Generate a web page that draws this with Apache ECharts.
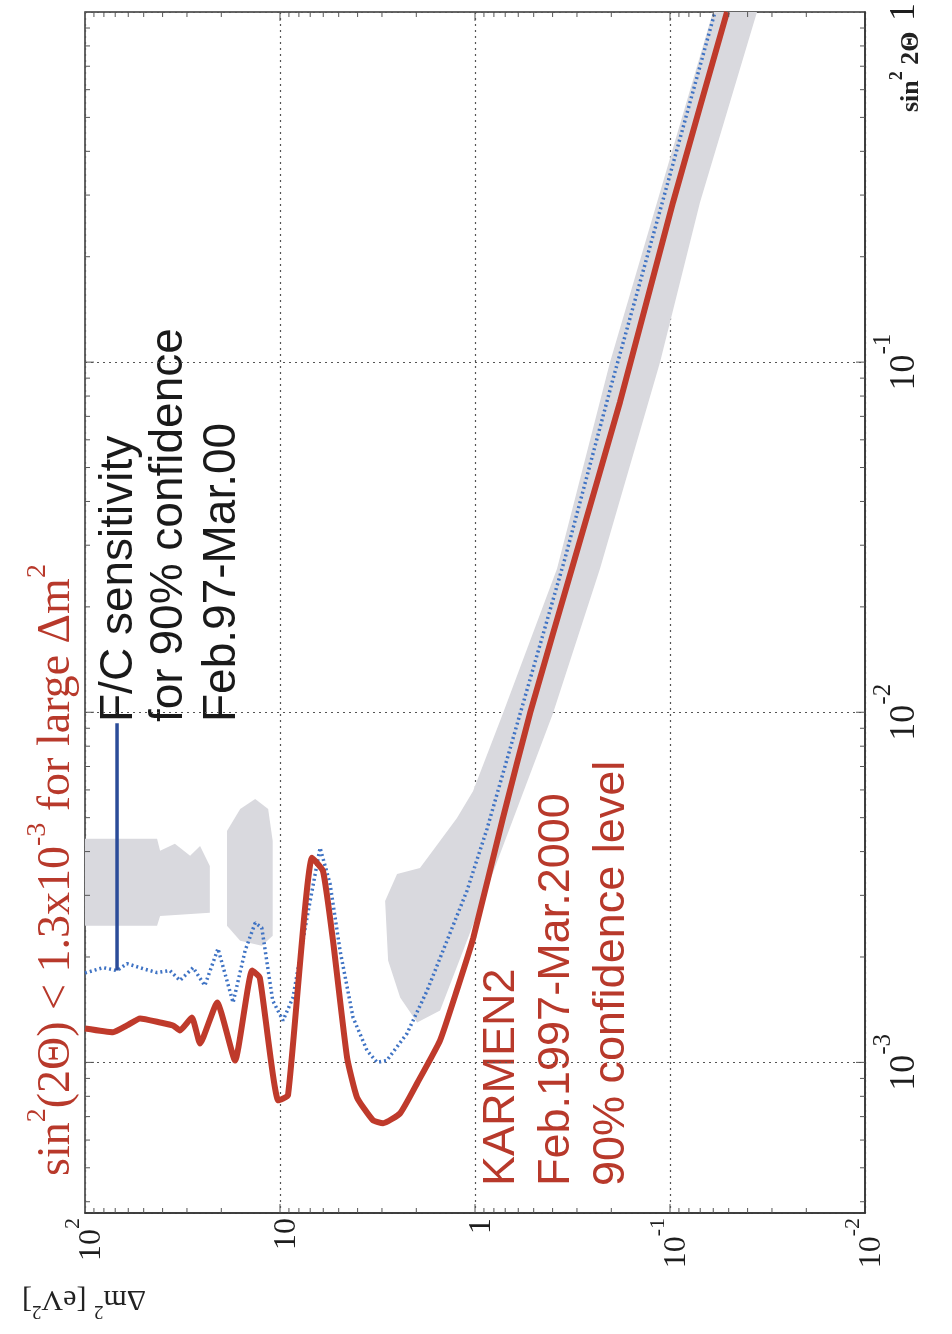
<!DOCTYPE html>
<html>
<head>
<meta charset="utf-8">
<script src="https://cdn.jsdelivr.net/npm/echarts@6/dist/echarts.min.js"></script>
<style>
  html, body { margin: 0; padding: 0; background: #fff; }
  #chart { width: 952px; height: 1334px; }
</style>
</head>
<body>
<div id="chart"></div>
<script>
// data: [dm2 (eV^2), sin^2(2theta)] -- the figure is drawn rotated by 90 degrees
const karmenLimit = [
  [100, 1.25e-3], [71.8, 1.22e-3], [60.9, 1.275e-3], [52.2, 1.335e-3], [41.2, 1.30e-3],
  [35.4, 1.275e-3], [32.6, 1.234e-3], [28.3, 1.343e-3], [25.7, 1.133e-3], [21.0, 1.482e-3],
  [17.0, 1.013e-3], [13.9, 1.829e-3], [12.7, 1.747e-3], [10.2, 7.79e-4], [9.1, 8.05e-4],
  [6.85, 3.84e-3], [6.02, 3.52e-3], [5.35, 2.23e-3], [4.53, 1.033e-3], [4.03, 7.95e-4],
  [3.34, 6.84e-4], [2.96, 6.70e-4], [2.42, 7.16e-4], [1.98, 8.72e-4], [1.51, 1.156e-3],
  [1.24, 1.604e-3], [1.02, 2.27e-3], [0.719, 4.99e-3], [0.522, 9.94e-3], [0.307, 2.76e-2],
  [0.1805, 7.69e-2], [0.0965, 0.286], [0.051, 1.0]
]
const fcSensitivity = [
  [100, 1.80e-3], [80.8, 1.865e-3], [68.5, 1.829e-3], [60.9, 1.915e-3], [50.4, 1.852e-3],
  [42.7, 1.805e-3], [36.7, 1.829e-3], [32.6, 1.713e-3], [27.9, 1.865e-3], [24.3, 1.657e-3],
  [20.8, 2.113e-3], [17.4, 1.482e-3], [15.1, 2.085e-3], [13.4, 2.505e-3], [12.4, 2.424e-3],
  [10.9, 1.502e-3], [9.65, 1.317e-3], [8.58, 1.532e-3], [7.27, 2.589e-3], [6.23, 4.10e-3],
  [5.54, 3.24e-3], [4.92, 2.085e-3], [4.22, 1.343e-3], [3.58, 1.082e-3], [3.18, 1.0e-3],
  [2.83, 1.013e-3], [2.23, 1.21e-3], [1.76, 1.604e-3], [1.39, 2.23e-3], [1.10, 3.09e-3],
  [0.868, 4.64e-3], [0.588, 9.87e-3], [0.345, 2.76e-2], [0.198, 8.77e-2], [0.106, 0.305],
  [0.0588, 1.0]
]
// grey sensitivity regions (outlines)
const bandDiagonal = [
  [0.0602, 1.0], [0.1166, 0.2856], [0.2031, 0.1], [0.3797, 2.57e-2], [0.7186, 9.94e-3],
  [1.024, 5.95e-3], [1.237, 4.99e-3], [1.512, 4.29e-3], [1.915, 3.59e-3], [2.51, 3.45e-3],
  [2.89, 2.89e-3], [2.79, 1.953e-3], [2.42, 1.532e-3], [1.98, 1.30e-3], [1.51, 1.406e-3],
  [1.125, 2.154e-3], [0.838, 3.30e-3], [0.588, 5.58e-3], [0.398, 9.94e-3], [0.2286, 2.57e-2],
  [0.1125, 0.1], [0.0702, 0.2856], [0.0358, 1.0]
]
const bandHigh = [
  [100, 4.35e-3], [42.7, 4.35e-3], [41.2, 4.02e-3], [34.6, 4.21e-3], [28.9, 3.89e-3],
  [25.7, 4.15e-3], [22.9, 3.64e-3], [22.9, 2.676e-3], [41.2, 2.62e-3], [42.7, 2.457e-3],
  [100, 2.457e-3]
]
const bandMid = [
  [18.7, 4.58e-3], [16.0, 5.29e-3], [13.4, 5.65e-3], [11.5, 5.29e-3], [10.9, 4.29e-3],
  [10.9, 2.30e-3], [12.4, 2.154e-3], [16.0, 2.226e-3], [18.7, 2.457e-3]
]
const fcPointer = [[68.5, 9.3e-3], [68.5, 1.83e-3]]

const dm2Range = [0.01, 100]
const sinRange = [3.714e-4, 1]
// frame ticks: decades (long) and 2..9 inside each decade (short)
const dm2Decades = [0.01, 0.1, 1, 10]
const sinDecades = [1e-4, 1e-3, 1e-2, 1e-1]
const minorSteps = [2, 3, 4, 5, 6, 7, 8, 9]

const serif = 'Liberation Serif'
const sans = 'Liberation Sans'
const red = '#b8392b'

const powerLabel = (v) => {
    const lg = Math.log10(v)
    const e = Math.round(lg)
    if (Math.abs(lg - e) > 1e-6) return ''
    if (e === 0) return '{b|1}'
    if (e === 1) return '{b|10}'
    return '{b|10}{s|' + e + '}'
}

const tickRich = (size, sup, lh) => ({
    b: { fontFamily: serif, fontSize: size, lineHeight: lh, verticalAlign: 'bottom', color: '#1e1e1e' },
    s: { fontFamily: serif, fontSize: sup, lineHeight: lh, verticalAlign: 'top', color: '#1e1e1e' }
})

// [value, length] pairs for the frame ticks inside the axis range
const frameTicks = (decades, range) => {
    const out = []
    decades.forEach(d => {
        if (d > range[0] && d < range[1]) out.push([d, 9])
        minorSteps.forEach(m => {
            const v = d * m
            if (v > range[0] && v < range[1]) out.push([v, 5])
        })
    })
    return out
}

const polygon = (name, pts) => ({
    type: 'custom',
    name: name,
    data: [pts[0]],
    z: 1,
    renderItem: (params, api) => {
        return {
            type: 'polygon',
            shape: { points: pts.map(p => api.coord(p)) },
            style: { fill: '#d9d9de' }
        }
    }
})

// log ticks on all four sides of the frame
const tickSeries = {
    type: 'custom',
    name: 'frame ticks',
    data: [[1, 0.01]],
    z: 5,
    silent: true,
    renderItem: (params, api) => {
        const r = params.coordSys
        const children = []
        frameTicks(dm2Decades, dm2Range).forEach(([v, len]) => {
            const px = api.coord([v, sinRange[1]])[0]
            children.push({ type: 'line', shape: { x1: px, y1: r.y + r.height, x2: px, y2: r.y + r.height - len } })
            children.push({ type: 'line', shape: { x1: px, y1: r.y, x2: px, y2: r.y + len } })
        })
        frameTicks(sinDecades, sinRange).forEach(([v, len]) => {
            const py = api.coord([dm2Range[1], v])[1]
            children.push({ type: 'line', shape: { x1: r.x, y1: py, x2: r.x + len, y2: py } })
            children.push({ type: 'line', shape: { x1: r.x + r.width, y1: py, x2: r.x + r.width - len, y2: py } })
        })
        children.forEach(c => { c.style = { stroke: '#555', lineWidth: 1 } })
        return { type: 'group', children: children }
    }
}

const frameAxis = (extra) => Object.assign({
    type: 'log',
    axisLine: { lineStyle: { color: '#333', width: 1.5 } },
    axisTick: { show: false },
    minorTick: { show: false },
    splitLine: { show: false }
}, extra)

const gridLine = { show: true, lineStyle: { color: '#555', type: [2, 4], width: 1.2 } }

const chart = echarts.init(document.getElementById('chart'))

const option = {
    backgroundColor: '#ffffff',
    animation: false,
    grid: {
        left: 85, right: 87, top: 9, bottom: 121,
        show: true, borderColor: '#333', borderWidth: 1.5
    },
    xAxis: frameAxis({
        min: dm2Range[0], max: dm2Range[1], inverse: true, position: 'bottom',
        splitLine: gridLine,
        axisLabel: { rotate: 90, margin: 5, formatter: powerLabel, rich: tickRich(32, 22, 46) }
    }),
    yAxis: frameAxis({
        min: sinRange[0], max: sinRange[1], position: 'right',
        splitLine: gridLine,
        axisLabel: { rotate: 90, margin: 6, formatter: powerLabel, rich: tickRich(36, 25, 52) }
    }),
    graphic: [
        {
            type: 'text', x: 906, y: 112, rotation: Math.PI / 2,
            style: {
                text: '{b|sin}{s|2}{b| 2Θ}',
                align: 'left', verticalAlign: 'middle',
                rich: {
                    b: { fontFamily: serif, fontWeight: 'bold', fontSize: 26, lineHeight: 36, verticalAlign: 'bottom', fill: '#222' },
                    s: { fontFamily: serif, fontWeight: 'bold', fontSize: 18, lineHeight: 36, verticalAlign: 'top', fill: '#222' }
                }
            }
        },
        {
            type: 'text', x: 84, y: 1302, rotation: Math.PI,
            style: {
                text: '{b|Δm}{s|2}{b| [eV}{s|2}{b|]}',
                align: 'center', verticalAlign: 'middle',
                rich: {
                    b: { fontFamily: serif, fontSize: 30, lineHeight: 36, verticalAlign: 'bottom', fill: '#222' },
                    s: { fontFamily: serif, fontSize: 19, lineHeight: 36, verticalAlign: 'top', fill: '#222' }
                }
            }
        },
        {
            type: 'text', x: 52, y: 1176, rotation: Math.PI / 2,
            style: {
                text: '{b|sin}{s|2}{b|(2Θ) < 1.3x10}{s|-3}{b| for large Δm}{s|2}',
                align: 'left', verticalAlign: 'middle',
                rich: {
                    b: { fontFamily: serif, fontSize: 46, lineHeight: 56, verticalAlign: 'bottom', fill: red },
                    s: { fontFamily: serif, fontSize: 28, lineHeight: 56, verticalAlign: 'top', fill: red }
                }
            }
        },
        // F/C sensitivity label
        { type: 'text', x: 119, y: 722, rotation: Math.PI / 2, style: { text: 'F/C sensitivity', font: '46px ' + sans, fill: '#1a1a1a', align: 'left', verticalAlign: 'middle' } },
        { type: 'text', x: 169, y: 722, rotation: Math.PI / 2, style: { text: 'for 90% confidence', font: '46px ' + sans, fill: '#1a1a1a', align: 'left', verticalAlign: 'middle' } },
        { type: 'text', x: 222, y: 722, rotation: Math.PI / 2, style: { text: 'Feb.97-Mar.00', font: '46px ' + sans, fill: '#1a1a1a', align: 'left', verticalAlign: 'middle' } },
        // KARMEN2 label
        { type: 'text', x: 502, y: 1186, rotation: Math.PI / 2, style: { text: 'KARMEN2', font: '45px ' + sans, fill: red, align: 'left', verticalAlign: 'middle' } },
        { type: 'text', x: 557, y: 1186, rotation: Math.PI / 2, style: { text: 'Feb.1997-Mar.2000', font: '45px ' + sans, fill: red, align: 'left', verticalAlign: 'middle' } },
        { type: 'text', x: 612, y: 1186, rotation: Math.PI / 2, style: { text: '90% confidence level', font: '45px ' + sans, fill: red, align: 'left', verticalAlign: 'middle' } }
    ],
    series: [
        polygon('band diagonal', bandDiagonal),
        polygon('band high', bandHigh),
        polygon('band mid', bandMid),
        tickSeries,
        {
            name: 'F/C sensitivity',
            type: 'line',
            data: fcSensitivity,
            showSymbol: false,
            z: 3,
            lineStyle: { color: '#3f73c4', width: 3.5, type: [2, 3] }
        },
        {
            name: 'F/C pointer',
            type: 'line',
            data: fcPointer,
            showSymbol: false,
            z: 3,
            lineStyle: { color: '#2b4c99', width: 3.5 }
        },
        {
            name: 'KARMEN2',
            type: 'line',
            data: karmenLimit,
            showSymbol: false,
            smooth: 0.15,
            z: 4,
            lineStyle: { color: '#bf3a2b', width: 6 }
        }
    ]
}

chart.setOption(option)
window.addEventListener('resize', () => chart.resize())
</script>
</body>
</html>
